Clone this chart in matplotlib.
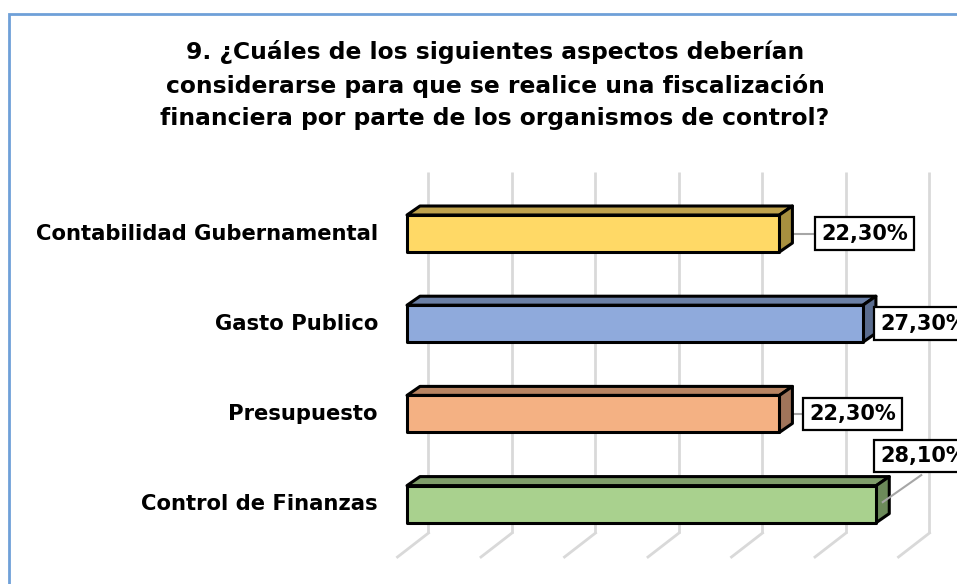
import matplotlib.pyplot as plt
from matplotlib.patches import Polygon, Rectangle

categories = ['Contabilidad Gubernamental', 'Gasto Publico', 'Presupuesto', 'Control de Finanzas']
values = [22.3, 27.3, 22.3, 28.1]
value_labels = ['22,30%', '27,30%', '22,30%', '28,10%']
grid_ticks = [0, 5, 10, 15, 20, 25, 30]

front_colors = ['#FFD966', '#8FAADC', '#F4B183', '#A9D18E']
top_colors = ['#BFA24D', '#6B80A6', '#B88462', '#7F9D6A']
side_colors = ['#A8903F', '#5A6C8F', '#A0745A', '#6C8A5A']

# label placement (pixels): box left offset from bar end, vertical shift
label_dx = [36, 11, 24, -2]
label_dy = [0, 0, 0, -48]

W, H = 957, 584
PX = 16.7      # pixels per percent
X0 = 407       # front zero, pixels
Y0 = 233.5     # first bar centre, pixels
DY = 90.2      # bar spacing, pixels

fig = plt.figure(figsize=(W / 100, H / 100), dpi=100)
ax = fig.add_axes([0, 0, 1, 1])
ax.set_xlim(-X0 / PX, (W - X0) / PX)
ax.set_ylim((H - Y0) / DY, -Y0 / DY)
ax.axis('off')

def px(dx):
    return dx / PX

def py(dy):
    return dy / DY

# border of the chart area
fig.patches.append(Rectangle((9 / W, -0.1), 1.2, 1.1 - 14 / H, transform=fig.transFigure,
                             fill=False, ec='#6FA0D8', lw=2))

# back wall gridlines and floor lines
wall_dx, top_y, bot_y = px(21.5), py(172 - Y0), py(533 - Y0)
floor_dx, floor_dy = px(-31), py(24)
for t in grid_ticks:
    xb = t + wall_dx
    ax.plot([xb, xb], [top_y, bot_y], color='#D9D9D9', lw=2, zorder=1, solid_capstyle='butt')
    ax.plot([xb, xb + floor_dx], [bot_y, bot_y + floor_dy], color='#D9D9D9', lw=2, zorder=1)

# 3D bars
bd_x, bd_y, hh = px(13), py(-9), py(18.5)
for i, v in enumerate(values):
    y1, y2 = i - hh, i + hh
    top = [(0, y1), (v, y1), (v + bd_x, y1 + bd_y), (bd_x, y1 + bd_y)]
    side = [(v, y1), (v + bd_x, y1 + bd_y), (v + bd_x, y2 + bd_y), (v, y2)]
    front = [(0, y1), (v, y1), (v, y2), (0, y2)]
    for pts, c in [(top, top_colors[i]), (side, side_colors[i]), (front, front_colors[i])]:
        ax.add_patch(Polygon(pts, closed=True, fc=c, ec='black', lw=2.2, joinstyle='round', zorder=3))

    # leader line and label box
    lx = v + px(label_dx[i])
    ly = i + py(label_dy[i])
    if label_dy[i] == 0:
        ax.plot([v + bd_x / 2, lx], [i, i], color='#A6A6A6', lw=1.5, zorder=2)
    else:
        ax.plot([v + bd_x / 2, v + px(45)], [i - py(2), ly + py(19)], color='#A6A6A6', lw=1.5, zorder=4)
    ax.text(lx + px(6), ly, value_labels[i], ha='left', va='center', fontsize=15,
            fontweight='bold', zorder=5,
            bbox=dict(boxstyle='square,pad=0.3', fc='white', ec='black', lw=1.6))

    ax.text(-px(29), i, categories[i], ha='right', va='center', fontsize=15.2, fontweight='bold')

fig.text(495 / W, 1 - 85 / H,
         '9. ¿Cuáles de los siguientes aspectos deberían\n'
         'considerarse para que se realice una fiscalización\n'
         'financiera por parte de los organismos de control?',
         ha='center', va='center', fontsize=16.8, fontweight='bold', linespacing=1.5)

fig.savefig('out.png', dpi=100)
